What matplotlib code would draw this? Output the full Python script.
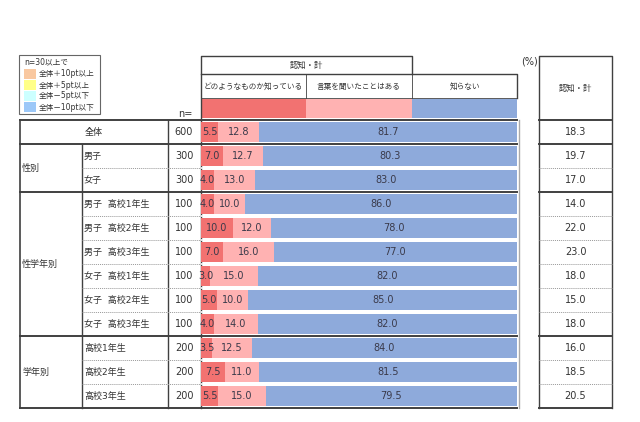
import matplotlib.pyplot as plt
import numpy as np

plt.rcParams['font.family'] = ['DejaVu Sans', 'Noto Sans CJK JP']

# SECTION: data
groups = ["全体", "性別", "性学年別", "学年別"]
group_rows = [1, 2, 6, 3]
row_labels = ["全体", "男子", "女子",
              "男子  高校1年生", "男子  高校2年生", "男子  高校3年生",
              "女子  高校1年生", "女子  高校2年生", "女子  高校3年生",
              "高校1年生", "高校2年生", "高校3年生"]
n_values = [600, 300, 300, 100, 100, 100, 100, 100, 100, 200, 200, 200]
know_well = [5.5, 7.0, 4.0, 4.0, 10.0, 7.0, 3.0, 5.0, 4.0, 3.5, 7.5, 5.5]
heard_word = [12.8, 12.7, 13.0, 10.0, 12.0, 16.0, 15.0, 10.0, 14.0, 12.5, 11.0, 15.0]
not_known = [81.7, 80.3, 83.0, 86.0, 78.0, 77.0, 82.0, 85.0, 82.0, 84.0, 81.5, 79.5]
aware_total = [18.3, 19.7, 17.0, 14.0, 22.0, 23.0, 18.0, 15.0, 18.0, 16.0, 18.5, 20.5]
series_names = ["どのようなものか知っている", "言葉を聞いたことはある", "知らない"]
legend_items = ["全体＋10pt以上", "全体＋5pt以上", "全体－5pt以下", "全体－10pt以下"]

colors = ["#f27271", "#ffb2b2", "#8eaadb"]
legend_colors = ["#f9c8a0", "#ffff88", "#ccffff", "#9cc8f8"]
line_c = "#404040"
txt_c = "#333333"

fig = plt.figure(figsize=(6.4, 4.22), dpi=100)
ax = fig.add_axes([0, 0, 1, 1])
ax.set_xlim(0, 640)
ax.set_ylim(422, 0)
ax.axis('off')

top, rh = 120, 24
nrows = len(row_labels)
bottom = top + rh * nrows
bx0, bx1 = 201, 517

# SECTION: bar axes
bx = fig.add_axes([bx0 / 640, 1 - bottom / 422, (bx1 - bx0) / 640, (bottom - top) / 422])
bx.set_xlim(0, 100)
bx.set_ylim(nrows - 0.5, -0.5)
bx.axis('off')
y = np.arange(nrows)
left = np.zeros(nrows)
for vals, c in zip([know_well, heard_word, not_known], colors):
    vals = np.array(vals)
    bx.barh(y, vals, left=left, height=0.86, color=c, edgecolor='none')
    for yi, l, v in zip(y, left, vals):
        bx.text(l + v / 2, yi, f"{v:.1f}", ha='center', va='center', fontsize=7, color="#3a3a4a")
    left = left + vals

# SECTION: header
ax.plot([bx0, bx0, 412, 412], [top, 56, 56, 74], color=line_c, lw=1)
ax.plot([bx0, bx1, bx1], [74, 74, 98], color=line_c, lw=1)
ax.plot([bx0, bx1], [98, 98], color=line_c, lw=0.6)
for xv in [306, 412]:
    ax.plot([xv, xv], [74, 98], color=line_c, lw=0.6)
ax.text(306, 65, "認知・計", ha='center', va='center', fontsize=6, color=txt_c)
edges = [bx0, 306, 412, bx1]
for i, name in enumerate(series_names):
    ax.text((edges[i] + edges[i + 1]) / 2, 86, name, ha='center', va='center', fontsize=5.5, color=txt_c)
    ax.fill_between([edges[i], edges[i + 1]], 98.5, 118, color=colors[i], lw=0)
ax.text(529, 62, "(%)", ha='center', va='center', fontsize=7, color=txt_c)
ax.text(185, 114, "n=", ha='center', va='center', fontsize=7, color=txt_c)

# right column header
rx0, rx1 = 539, 612
ax.plot([rx0, rx0, rx1, rx1], [bottom, 56, 56, bottom], color=line_c, lw=1)
ax.text((rx0 + rx1) / 2, 88, "認知・計", ha='center', va='center', fontsize=6, color=txt_c)

# SECTION: legend
ax.add_patch(plt.Rectangle((19, 55), 81, 59, fill=False, ec="#666666", lw=0.8))
ax.text(24, 62, "n=30以上で", ha='left', va='center', fontsize=5.5, color=txt_c)
for i, (lab, c) in enumerate(zip(legend_items, legend_colors)):
    yy = 74 + i * 11
    ax.add_patch(plt.Rectangle((24, yy - 5), 12, 10, color=c, lw=0))
    ax.text(39, yy, lab, ha='left', va='center', fontsize=5.5, color=txt_c)

# SECTION: table
ax.plot([20, 20], [top, bottom], color=line_c, lw=1.2)
ax.plot([82, 82], [top + rh, bottom], color=line_c, lw=1)
ax.plot([168, 168], [top, bottom], color=line_c, lw=1)
ax.plot([bx0, bx0], [top, bottom], color=line_c, lw=1)
ax.plot([bx1 + 2, bx1 + 2], [top, bottom], color="#aaaaaa", lw=1)

start = 0
for g, cnt in zip(groups, group_rows):
    y0 = top + start * rh
    ax.plot([20, bx1], [y0, y0], color=line_c, lw=1.4)
    ax.plot([rx0, rx1], [y0, y0], color=line_c, lw=1.4)
    if g != "全体":
        ax.text(22, y0 + cnt * rh / 2, g, ha='left', va='center', fontsize=6.5, color=txt_c)
    for k in range(1, cnt):
        yk = y0 + k * rh
        ax.plot([82, bx0], [yk, yk], color="#999999", lw=0.7, ls=(0, (1, 1)))
        ax.plot([bx0, bx1], [yk, yk], color="white", lw=1.2, ls=(0, (1, 1)))
        ax.plot([rx0, rx1], [yk, yk], color="#999999", lw=0.7, ls=(0, (1, 1)))
    start += cnt
ax.plot([20, bx1], [bottom, bottom], color=line_c, lw=1.4)
ax.plot([rx0, rx1], [bottom, bottom], color=line_c, lw=1.4)

for i, lab in enumerate(row_labels):
    yc = top + i * rh + rh / 2
    if i == 0:
        ax.text(94, yc, lab, ha='center', va='center', fontsize=6.5, color=txt_c)
    else:
        ax.text(84, yc, lab, ha='left', va='center', fontsize=6.5, color=txt_c)
    ax.text(184, yc, str(n_values[i]), ha='center', va='center', fontsize=7, color=txt_c)
    ax.text((rx0 + rx1) / 2, yc, f"{aware_total[i]:.1f}", ha='center', va='center', fontsize=7, color=txt_c)

fig.savefig("out.png", dpi=100, facecolor='white')
